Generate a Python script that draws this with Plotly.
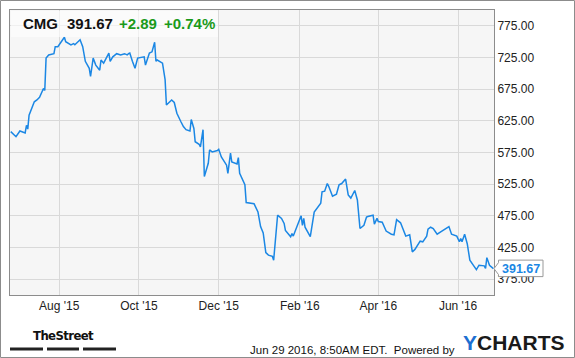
import plotly.graph_objects as go

# ---- data ----
dates = [
    "2015-06-25", "2015-06-29", "2015-07-02", "2015-07-06", "2015-07-07", "2015-07-08", "2015-07-09",
    "2015-07-13", "2015-07-15", "2015-07-17", "2015-07-20", "2015-07-21", "2015-07-22", "2015-07-24",
    "2015-07-28", "2015-07-29", "2015-07-31", "2015-08-03", "2015-08-05", "2015-08-06", "2015-08-10",
    "2015-08-12", "2015-08-13", "2015-08-17", "2015-08-19", "2015-08-21", "2015-08-24", "2015-08-25",
    "2015-08-27", "2015-08-29", "2015-09-01", "2015-09-02", "2015-09-04", "2015-09-06", "2015-09-08",
    "2015-09-09", "2015-09-11", "2015-09-14", "2015-09-17", "2015-09-20", "2015-09-22", "2015-09-23",
    "2015-09-24", "2015-09-26", "2015-09-28", "2015-09-30", "2015-10-05", "2015-10-06", "2015-10-09",
    "2015-10-11", "2015-10-13", "2015-10-14", "2015-10-15", "2015-10-19", "2015-10-21", "2015-10-22",
    "2015-10-26", "2015-10-28", "2015-10-30", "2015-11-02", "2015-11-04", "2015-11-06", "2015-11-09",
    "2015-11-10", "2015-11-12", "2015-11-13", "2015-11-16", "2015-11-17", "2015-11-19", "2015-11-20",
    "2015-11-23", "2015-11-24", "2015-11-26", "2015-11-30", "2015-12-01", "2015-12-03", "2015-12-07",
    "2015-12-08", "2015-12-10", "2015-12-11", "2015-12-15", "2015-12-16", "2015-12-17", "2015-12-21",
    "2015-12-22", "2015-12-28", "2015-12-31", "2016-01-02", "2016-01-04", "2016-01-06", "2016-01-08",
    "2016-01-11", "2016-01-12", "2016-01-15", "2016-01-18", "2016-01-20", "2016-01-21", "2016-01-25",
    "2016-01-26", "2016-01-27", "2016-01-29", "2016-02-02", "2016-02-03", "2016-02-04", "2016-02-05",
    "2016-02-09", "2016-02-12", "2016-02-15", "2016-02-17", "2016-02-18", "2016-02-20", "2016-02-22",
    "2016-02-23", "2016-02-26", "2016-02-29", "2016-03-02", "2016-03-04", "2016-03-07", "2016-03-09",
    "2016-03-11", "2016-03-14", "2016-03-16", "2016-03-18", "2016-03-21", "2016-03-23", "2016-03-24",
    "2016-03-28", "2016-03-29", "2016-03-31", "2016-04-01", "2016-04-04", "2016-04-07", "2016-04-11",
    "2016-04-13", "2016-04-15", "2016-04-18", "2016-04-20", "2016-04-22", "2016-04-25", "2016-04-27",
    "2016-04-29", "2016-05-03", "2016-05-05", "2016-05-08", "2016-05-09", "2016-05-11", "2016-05-13",
    "2016-05-16", "2016-05-19", "2016-05-22", "2016-05-25", "2016-05-27", "2016-05-31", "2016-06-02",
    "2016-06-03", "2016-06-04", "2016-06-06", "2016-06-08", "2016-06-10", "2016-06-13", "2016-06-15",
    "2016-06-17", "2016-06-21", "2016-06-22", "2016-06-23", "2016-06-25", "2016-06-28",
]
prices = [
    608, 600, 609, 606, 618, 612, 634,
    655, 658, 662, 676, 673, 724, 729,
    731, 742, 742, 750, 757, 750, 745,
    747, 745, 753, 742, 719, 708, 695,
    724, 713, 705, 721, 716, 724, 732,
    719, 726, 731, 729, 731, 729, 731,
    732, 719, 708, 724, 726, 713, 732,
    734, 749, 719, 721, 716, 690, 650,
    658, 654, 637, 624, 616, 611, 609,
    627, 613, 592, 588, 584, 611, 537,
    558, 579, 576, 578, 580, 568, 555,
    542, 574, 560, 557, 567, 542, 524,
    496, 494, 481, 458, 448, 417, 413,
    411, 405, 476, 471, 463, 452, 442,
    447, 443, 454, 475, 460, 471, 457,
    442, 481, 489, 495, 513, 514, 526,
    522, 506, 509, 524, 526, 533, 508,
    503, 515, 500, 455, 460, 473, 474,
    476, 462, 471, 466, 465, 451, 446,
    445, 469, 464, 454, 443, 445, 418,
    422, 435, 434, 443, 454, 457, 455,
    446, 450, 454, 458, 446, 443, 434,
    439, 434, 446, 431, 405, 396, 390,
    397, 396, 392, 409, 397, 391.67,
]

ticker = "CMG"
last_price = "391.67"
change_abs = "+2.89"
change_pct = "+0.74%"

x_tick_vals = ["2015-08-01", "2015-10-01", "2015-12-01", "2016-02-01", "2016-04-01", "2016-06-01"]
x_tick_text = ["Aug '15", "Oct '15", "Dec '15", "Feb '16", "Apr '16", "Jun '16"]
y_tick_vals = [375, 425, 475, 525, 575, 625, 675, 725, 775]

FONT = "Arial, 'Liberation Sans', sans-serif"
BLUE = "#1b87e4"
GREEN = "#1a9a1a"

# ---- layout geometry (pixels) ----
W, H = 575, 358
L, R, T, B = 10, 81, 10, 63
pw, ph = W - L - R, H - T - B


def px(xp):
    return (xp - L) / pw


def py(yp):
    return (H - B - yp) / ph


fig = go.Figure()
fig.add_trace(go.Scatter(x=dates, y=prices, mode="lines",
                         line=dict(color=BLUE, width=1.5), hoverinfo="skip",
                         showlegend=False))

shapes = []
# translucent box behind the header text
shapes.append(dict(type="rect", xref="paper", yref="paper", x0=px(11), x1=px(218),
                   y0=py(37), y1=py(11), fillcolor="rgba(255,255,255,0.6)",
                   line=dict(width=0), layer="above"))
# outer border of the whole picture
shapes.append(dict(type="rect", xref="paper", yref="paper", x0=px(0.5), x1=px(574.5),
                   y0=py(357.5), y1=py(0.5), line=dict(color="#8c8c8c", width=1)))
# TheStreet underline bars
for a, b in [(10, 43), (47, 79), (83, 116)]:
    shapes.append(dict(type="rect", xref="paper", yref="paper", x0=px(a), x1=px(b),
                       y0=py(350.5), y1=py(347.5), fillcolor="#222", line=dict(width=0)))
# last-value flag with pointer
lv = prices[-1]
vpp = (800 - 350) / ph  # value per pixel
xl, xt, xr = px(494), px(498.5), px(543)
path = (f"M {xl},{lv + 0 * vpp} L {xt},{lv + 6 * vpp} L {xt},{lv + 8.5 * vpp} "
        f"L {xr},{lv + 8.5 * vpp} L {xr},{lv - 8 * vpp} L {xt},{lv - 8 * vpp} "
        f"L {xt},{lv - 6 * vpp} Z")
shapes.append(dict(type="path", xref="paper", yref="y", path=path, fillcolor="white",
                   line=dict(color="#999", width=1), layer="above"))

annotations = []
hy = py(23.5)
for xpos, txt, col in [(21, ticker, "#111"), (64.5, last_price, "#111"),
                       (116.5, change_abs, GREEN), (161.5, change_pct, GREEN)]:
    annotations.append(dict(xref="paper", yref="paper", x=px(xpos), y=hy, xanchor="left",
                            yanchor="middle", text=f"<b>{txt}</b>", showarrow=False,
                            font=dict(family=FONT, size=15, color=col)))
annotations.append(dict(xref="paper", yref="y", x=px(520.5), y=lv, xanchor="center",
                        yanchor="middle", text=f"<b>{last_price}</b>", showarrow=False,
                        font=dict(family=FONT, size=12.5, color=BLUE)))
annotations.append(dict(xref="paper", yref="paper", x=px(63), y=py(335), xanchor="center",
                        yanchor="middle",
                        text="<span style='font-stretch:condensed;letter-spacing:-0.6px'><b>TheStreet</b></span>",
                        showarrow=False,
                        font=dict(family="'DejaVu Sans', sans-serif", size=13, color="#111")))
annotations.append(dict(xref="paper", yref="paper", x=px(457), y=py(350), xanchor="right",
                        yanchor="middle", text="Jun 29 2016, 8:50AM EDT.  Powered by",
                        showarrow=False, font=dict(family=FONT, size=11.5, color="#111")))
annotations.append(dict(xref="paper", yref="paper", x=px(461), y=py(342), xanchor="left",
                        yanchor="middle",
                        text="<b><span style='color:#1d6fd1'>Y</span>CHARTS</b>",
                        showarrow=False, font=dict(family=FONT, size=21, color="#1a1a1a")))

fig.update_layout(
    width=W, height=H,
    margin=dict(l=L, r=R, t=T, b=B, pad=0),
    paper_bgcolor="white", plot_bgcolor="#f6f6f6",
    showlegend=False,
    shapes=shapes, annotations=annotations,
    xaxis=dict(type="date", range=["2015-06-24 10:00", "2016-06-28 11:00"],
               tickmode="array", tickvals=x_tick_vals, ticktext=x_tick_text,
               showgrid=True, gridcolor="#d9d9d9", gridwidth=1,
               showline=True, mirror=True, linecolor="#8c8c8c", linewidth=1,
               ticks="", tickfont=dict(family=FONT, size=12, color="#222"),
               zeroline=False, fixedrange=True),
    yaxis=dict(range=[350, 800], side="right", tickmode="array", tickvals=y_tick_vals,
               tickformat=".2f", showgrid=True, gridcolor="#d9d9d9", gridwidth=1,
               showline=True, mirror=True, linecolor="#8c8c8c", linewidth=1,
               ticks="", tickfont=dict(family=FONT, size=12, color="#222"),
               zeroline=False, fixedrange=True),
)

fig.write_html("out.html", config={"displayModeBar": False})
